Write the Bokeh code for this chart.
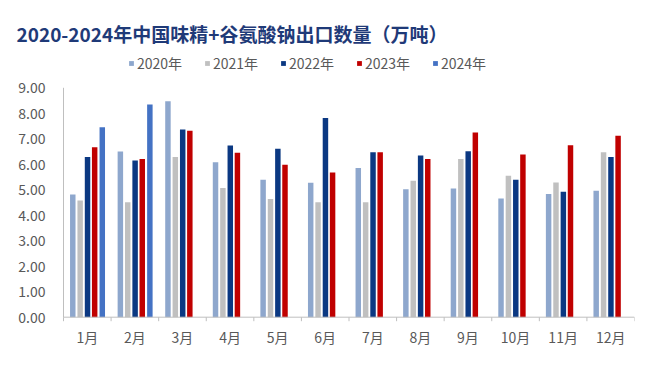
from bokeh.plotting import figure
from bokeh.models import ColumnDataSource, Label, Legend, LegendItem, Range1d
from bokeh.core.properties import value
from bokeh.embed import file_html
from bokeh.resources import INLINE

months = ["1月", "2月", "3月", "4月", "5月", "6月", "7月", "8月", "9月", "10月", "11月", "12月"]
years = ["2020年", "2021年", "2022年", "2023年", "2024年"]
v2020 = [4.81, 6.50, 8.47, 6.08, 5.39, 5.27, 5.85, 5.02, 5.05, 4.66, 4.83, 4.96]
v2021 = [4.58, 4.51, 6.28, 5.07, 4.64, 4.51, 4.51, 5.35, 6.21, 5.55, 5.28, 6.47]
v2022 = [6.28, 6.15, 7.36, 6.74, 6.61, 7.81, 6.47, 6.34, 6.51, 5.39, 4.92, 6.28]
v2023 = [6.67, 6.21, 7.31, 6.45, 5.98, 5.68, 6.47, 6.21, 7.25, 6.38, 6.75, 7.12]
v2024 = [7.45, 8.34]
colors = ["#8EA7CD", "#C0C0C0", "#0B3882", "#C00000", "#4472C4"]
title_text = "2020-2024年中国味精+谷氨酸钠出口数量（万吨）"
yticks = [0, 1, 2, 3, 4, 5, 6, 7, 8, 9]
ytick_labels = ["%.2f" % t for t in yticks]

series = [v2020, v2021, v2022, v2023, v2024]
offsets = [-0.305, -0.15, 0.005, 0.155, 0.315]

W, H = 644, 367
PXX = 47.58   # px per category
PXY = 25.49   # px per unit
ZERO_Y = 316.7
TOP, BOTTOM = 8, 347
x0 = 0.5 - 63 / PXX
y0 = -(BOTTOM - ZERO_Y) / PXY
p = figure(width=W, height=H, output_backend="svg", toolbar_location=None,
           x_range=Range1d(x0, 12.5), y_range=Range1d(y0, y0 + (BOTTOM - TOP) / PXY),
           min_border_left=0, min_border_right=10, min_border_top=TOP,
           min_border_bottom=H - BOTTOM)
p.outline_line_color = None
p.xgrid.visible = False
p.ygrid.visible = False
p.xaxis.visible = False
p.yaxis.visible = False
p.background_fill_color = "white"
p.border_fill_color = "white"

items = []
for i, (vals, off, col, name) in enumerate(zip(series, offsets, colors, years)):
    xs = [m + 1 + off for m in range(len(vals))]
    src = ColumnDataSource(dict(x=xs, top=vals))
    r = p.vbar(x="x", top="top", bottom=0, width=0.115, source=src,
               fill_color=col, line_color=None)
    items.append(LegendItem(label=name, renderers=[r]))

# axis lines and category boundary ticks
p.segment(x0=[0.5], y0=[0], x1=[0.5], y1=[yticks[-1]], line_color="#BFBFBF", line_width=1)
p.segment(x0=[0.5], y0=[0], x1=[12.5], y1=[0], line_color="#BFBFBF", line_width=1)
bounds = [k + 0.5 for k in range(len(months) + 1)]
p.segment(x0=bounds, y0=[0] * len(bounds), x1=bounds, y1=[-4 / PXY] * len(bounds),
          line_color="#BFBFBF", line_width=1)

# y tick labels
p.text(x=[0.5 - 18 / PXX] * len(yticks), y=yticks, text=ytick_labels,
       text_align="right", text_baseline="middle", text_font=value("Noto Sans CJK SC"),
       text_font_size="14px", text_color="#595959")

# x tick labels
p.text(x=list(range(1, len(months) + 1)), y=[-19.5 / PXY] * len(months), text=months,
       text_align="center", text_baseline="middle", text_font=value("Noto Sans CJK SC"),
       text_font_size="14px", text_color="#595959")

legend = Legend(items=items, orientation="horizontal", location=(128, BOTTOM - 63 - 10),
                padding=0, margin=0, spacing=8, glyph_width=6, glyph_height=6,
                label_standoff=3, label_width=59, label_height=20,
                label_text_font="Noto Sans CJK SC", label_text_font_size="14px",
                label_text_color="#595959", border_line_color=None,
                background_fill_alpha=0)
p.add_layout(legend, "center")

title = Label(x=x0 + 16 / PXX, y=(ZERO_Y - 33) / PXY, text=title_text,
              text_font="Noto Sans CJK SC", text_font_size="19px", text_font_style="bold",
              text_color="#1F3A78", text_baseline="middle")
p.add_layout(title)

open("out.html", "w").write(file_html(p, INLINE))
